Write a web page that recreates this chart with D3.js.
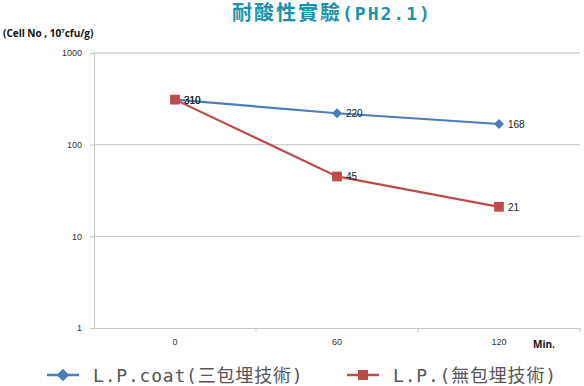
<!DOCTYPE html>
<html>
<head>
<meta charset="utf-8">
<script src="https://cdn.jsdelivr.net/npm/d3@7"></script>
<style>
  body { margin: 0; background: #fff; }
  svg { display: block; }
</style>
</head>
<body>
<div id="chart"></div>
<script>
var svgWidth = 584;
var svgHeight = 386;

// data
var categories = ["0", "60", "120"];
var coatValues = [310, 220, 168];
var plainValues = [310, 45, 21];
var yTicks = [1, 10, 100, 1000];
var seriesNames = ["L.P.coat(三包埋技術)", "L.P.(無包埋技術)"];

var margin = { top: 53, right: 4, bottom: 58, left: 94 };
var width = svgWidth - margin.left - margin.right;
var height = svgHeight - margin.top - margin.bottom;

var svg = d3.select("#chart")
  .append("svg")
  .attr("width", svgWidth)
  .attr("height", svgHeight);

// title
var title = svg.append("text")
  .attr("x", 232)
  .attr("y", 20)
  .attr("fill", "#1b92ab")
  .attr("font-family", "'DejaVu Sans Mono', 'Noto Sans CJK TC', sans-serif")
  .attr("font-weight", "bold");
title.append("tspan").attr("font-size", 20).attr("letter-spacing", 2).text("耐酸性實驗");
title.append("tspan").attr("font-size", 18).attr("letter-spacing", 2).text("(PH2.1)");

// y axis unit
var unit = svg.append("text")
  .attr("x", 3)
  .attr("y", 37)
  .attr("font-family", "'Open Sans', sans-serif")
  .attr("font-weight", "bold")
  .attr("font-size", 10)
  .attr("fill", "#111");
unit.append("tspan").text("(Cell No , 10");
unit.append("tspan").attr("font-size", 6).attr("dy", -4).text("7");
unit.append("tspan").attr("dy", 4).text("cfu/g)");

var chartGroup = svg.append("g")
  .attr("transform", `translate(${margin.left}, ${margin.top})`);

var xScale = d3.scaleBand().domain(categories).range([0, width]);
var yScale = d3.scaleLog().domain([1, 1000]).range([height, 0]);

// gridlines
chartGroup.selectAll(".grid")
  .data(yTicks.slice(1))
  .enter()
  .append("line")
  .attr("x1", 0)
  .attr("x2", width)
  .attr("y1", d => yScale(d))
  .attr("y2", d => yScale(d))
  .attr("stroke", "#d0d0d0")
  .attr("stroke-width", 1.3);

// y axis
var leftAxis = d3.axisLeft(yScale).tickValues(yTicks).tickFormat(d3.format("d")).tickSize(4).tickPadding(8);
var yAxis = chartGroup.append("g").call(leftAxis);
yAxis.select(".domain").attr("stroke", "#c8c8c8");
yAxis.selectAll(".tick line").attr("stroke", "#c8c8c8");
yAxis.selectAll("text").attr("font-family", "'Liberation Sans', sans-serif").attr("font-size", 9).attr("fill", "#333");

// x axis
var bottomAxis = d3.axisBottom(xScale).tickSize(0).tickPadding(11);
var xAxis = chartGroup.append("g")
  .attr("transform", `translate(0, ${height})`)
  .call(bottomAxis);
xAxis.select(".domain").attr("stroke", "#c8c8c8");
xAxis.selectAll("text").attr("font-family", "'Liberation Sans', sans-serif").attr("font-size", 9).attr("fill", "#333");
// tick marks between categories
xAxis.selectAll(".sep")
  .data(categories)
  .enter()
  .append("line")
  .attr("x1", d => xScale(d) + xScale.bandwidth())
  .attr("x2", d => xScale(d) + xScale.bandwidth())
  .attr("y1", 0)
  .attr("y2", 4)
  .attr("stroke", "#c8c8c8");

chartGroup.append("text")
  .attr("x", 439)
  .attr("y", height + 20)
  .attr("font-family", "'Open Sans', sans-serif")
  .attr("font-weight", "bold")
  .attr("font-size", 10)
  .attr("fill", "#111")
  .text("Min.");

var line = d3.line()
  .x((d, i) => xScale(categories[i]) + xScale.bandwidth() / 2)
  .y(d => yScale(d));

// diamond = square turned 45 degrees
var series = [
  { values: coatValues, color: "#4a7ebb", rot: 45, size: 50, legendSize: 80 },
  { values: plainValues, color: "#be4b48", rot: 0, size: 95, legendSize: 100 }
];

series.forEach(function(s) {
  chartGroup.append("path")
    .datum(s.values)
    .attr("d", line)
    .attr("fill", "none")
    .attr("stroke", s.color)
    .attr("stroke-width", 2.2);

  chartGroup.selectAll(null)
    .data(s.values)
    .enter()
    .append("path")
    .attr("d", d3.symbol().type(d3.symbolSquare).size(s.size))
    .attr("transform", (d, i) => `translate(${xScale(categories[i]) + xScale.bandwidth() / 2}, ${yScale(d)}) rotate(${s.rot})`)
    .attr("fill", s.color);

  chartGroup.selectAll(null)
    .data(s.values)
    .enter()
    .append("text")
    .attr("x", (d, i) => xScale(categories[i]) + xScale.bandwidth() / 2 + 9)
    .attr("y", d => yScale(d) + 4)
    .attr("font-family", "'Liberation Sans', sans-serif")
    .attr("font-size", 10)
    .attr("fill", "#222")
    .text(d => d);
});

// legend
var legendX = [47, 347];
series.forEach(function(s, i) {
  var g = svg.append("g").attr("transform", `translate(${legendX[i]}, 375)`);
  g.append("line").attr("x1", 0).attr("x2", 32).attr("y1", 0).attr("y2", 0)
    .attr("stroke", s.color).attr("stroke-width", 2.5);
  g.append("path")
    .attr("d", d3.symbol().type(d3.symbolSquare).size(s.legendSize))
    .attr("transform", `translate(16, 0) rotate(${s.rot})`)
    .attr("fill", s.color);
  g.append("text")
    .attr("x", 46)
    .attr("y", 7)
    .attr("font-family", "'DejaVu Sans Mono', 'Noto Sans CJK TC', monospace")
    .attr("font-size", 18)
    .attr("letter-spacing", 0.8)
    .attr("fill", "#555")
    .text(seriesNames[i]);
});
</script>
</body>
</html>
